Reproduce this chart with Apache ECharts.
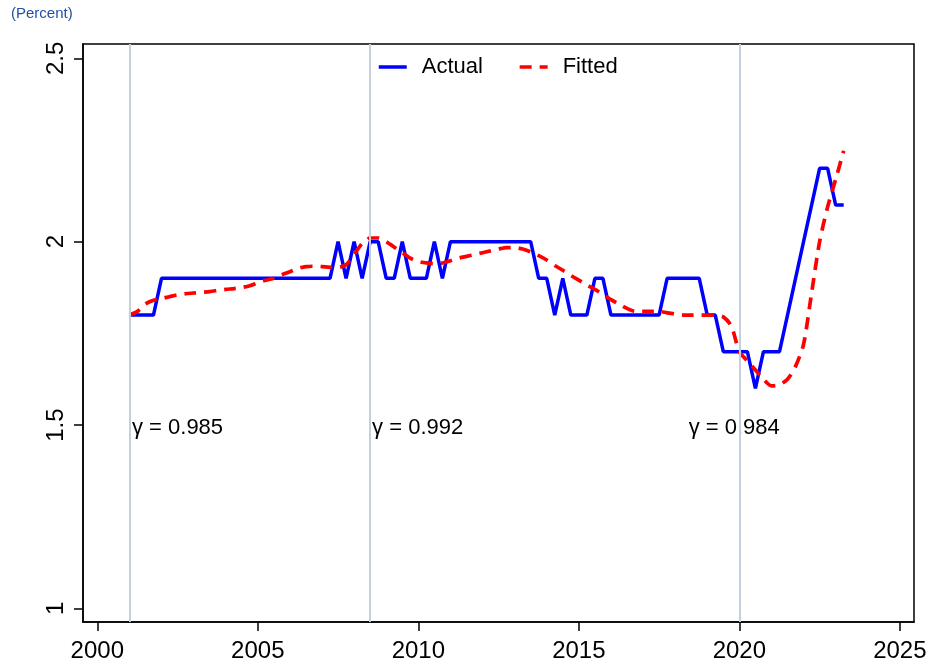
<!DOCTYPE html>
<html>
<head>
<meta charset="utf-8">
<script src="https://cdn.jsdelivr.net/npm/echarts@6/dist/echarts.min.js"></script>
<style>
html, body { margin: 0; padding: 0; background: #fff; }
#main { width: 938px; height: 669px; }
</style>
</head>
<body>
<div id="main"></div>
<script>
// quarterly data, first point is 2001 Q1
var startYear = 2001;

var actual = [
    1.8, 1.8, 1.8, 1.8,
    1.9, 1.9, 1.9, 1.9,
    1.9, 1.9, 1.9, 1.9,
    1.9, 1.9, 1.9, 1.9,
    1.9, 1.9, 1.9, 1.9,
    1.9, 1.9, 1.9, 1.9,
    1.9, 1.9, 2.0, 1.9,
    2.0, 1.9, 2.0, 2.0,
    1.9, 1.9, 2.0, 1.9,
    1.9, 1.9, 2.0, 1.9,
    2.0, 2.0, 2.0, 2.0,
    2.0, 2.0, 2.0, 2.0,
    2.0, 2.0, 2.0, 1.9,
    1.9, 1.8, 1.9, 1.8,
    1.8, 1.8, 1.9, 1.9,
    1.8, 1.8, 1.8, 1.8,
    1.8, 1.8, 1.8, 1.9,
    1.9, 1.9, 1.9, 1.9,
    1.8, 1.8, 1.7, 1.7,
    1.7, 1.7, 1.6, 1.7,
    1.7, 1.7, 1.8, 1.9,
    2.0, 2.1, 2.2, 2.2,
    2.1, 2.1
];

var fitted = [
    1.80, 1.81, 1.83, 1.84,
    1.845, 1.85, 1.855, 1.858,
    1.86, 1.862, 1.864, 1.867,
    1.87, 1.872, 1.875, 1.88,
    1.888, 1.895, 1.90, 1.91,
    1.918, 1.927, 1.932, 1.933,
    1.932, 1.93, 1.93, 1.937,
    1.965, 1.995, 2.01, 2.01,
    2.0, 1.985, 1.97, 1.955,
    1.946, 1.942, 1.94, 1.942,
    1.948, 1.955, 1.96, 1.965,
    1.97, 1.975, 1.98, 1.984,
    1.984, 1.98, 1.972, 1.962,
    1.95, 1.935, 1.922, 1.908,
    1.895, 1.882, 1.87, 1.856,
    1.842, 1.83, 1.818, 1.81,
    1.81, 1.81, 1.81, 1.806,
    1.803, 1.80, 1.80, 1.80,
    1.80, 1.80, 1.795, 1.77,
    1.70, 1.675, 1.65, 1.625,
    1.607, 1.61, 1.625, 1.66,
    1.72, 1.86, 2.0, 2.095,
    2.17, 2.248
];

var xTicks = [2000, 2005, 2010, 2015, 2020, 2025];
var yTicks = [1, 1.5, 2, 2.5];

// vertical marks and gamma notes
var breakYears = [2001, 2008.5, 2020];
var gammaText = ['γ = 0.985', 'γ = 0.992', 'γ = 0.984'];
var gammaAt = [[2001.08, 1.493], [2008.56, 1.493], [2018.42, 1.493]];

var FONT = '"Liberation Sans", Arial, sans-serif';

function toPairs(vals) {
    var out = [];
    for (var i = 0; i < vals.length; i++) {
        out.push([startYear + i / 4, vals[i]]);
    }
    return out;
}

var notes = [];
for (var i = 0; i < gammaAt.length; i++) {
    notes.push({ value: gammaAt[i], label: { formatter: gammaText[i] } });
}

var myChart = echarts.init(document.getElementById('main'));

var option = {
    backgroundColor: '#fff',
    animation: false,
    title: {
        text: '(Percent)',
        left: 6,
        top: 1,
        textStyle: { color: '#2150a6', fontSize: 15, fontWeight: 'normal', fontFamily: FONT }
    },
    legend: {
        data: ['Actual', 'Fitted'],
        left: 372,
        top: 51,
        itemWidth: 28,
        itemHeight: 14,
        itemGap: 35,
        lineStyle: { width: 3.5 },
        textStyle: { fontSize: 22, color: '#000', fontFamily: FONT, padding: [0, 0, 0, 10] }
    },
    grid: {
        left: 83,
        right: 24,
        top: 44,
        bottom: 47,
        show: true,
        borderColor: '#000',
        borderWidth: 1.5
    },
    xAxis: {
        type: 'value',
        min: 1999.555,
        max: 2025.44,
        splitLine: { show: false },
        axisLine: { lineStyle: { color: '#000', width: 1.5 } },
        axisTick: { customValues: xTicks, length: 9, lineStyle: { color: '#000', width: 1.5 } },
        axisLabel: {
            customValues: xTicks,
            formatter: function (v) { return String(v); },
            margin: 17,
            fontSize: 24,
            color: '#000',
            fontFamily: FONT
        }
    },
    yAxis: {
        type: 'value',
        min: 0.963,
        max: 2.539,
        splitLine: { show: false },
        axisLine: { show: true, lineStyle: { color: '#000', width: 1.5 } },
        axisTick: { show: true, customValues: yTicks, length: 9, lineStyle: { color: '#000', width: 1.5 } },
        axisLabel: {
            customValues: yTicks,
            rotate: 90,
            margin: 15,
            fontSize: 24,
            color: '#000',
            fontFamily: FONT
        }
    },
    series: [{
        name: 'notes',
        type: 'scatter',
        symbolSize: 0,
        z: 1,
        data: notes,
        itemStyle: { opacity: 1 },
        label: {
            show: true,
            position: 'right',
            distance: 0,
            fontSize: 22,
            color: '#000',
            opacity: 1,
            fontFamily: FONT
        },
        markLine: {
            silent: true,
            symbol: 'none',
            label: { show: false },
            lineStyle: { color: '#c5d0de', width: 2, type: 'solid', opacity: 1 },
            data: breakYears.map(function (y) { return { xAxis: y }; })
        }
    }, {
        name: 'Actual',
        type: 'line',
        z: 3,
        symbol: 'none',
        data: toPairs(actual),
        lineStyle: { color: '#0000ff', width: 3.5 },
        itemStyle: { color: '#0000ff', opacity: 0 }
    }, {
        name: 'Fitted',
        type: 'line',
        z: 4,
        symbol: 'none',
        smooth: 0.25,
        data: toPairs(fitted),
        lineStyle: { color: '#ff0000', width: 3.7, type: [12, 8] },
        itemStyle: { color: '#ff0000', opacity: 0 }
    }]
};

myChart.setOption(option);
</script>
</body>
</html>
